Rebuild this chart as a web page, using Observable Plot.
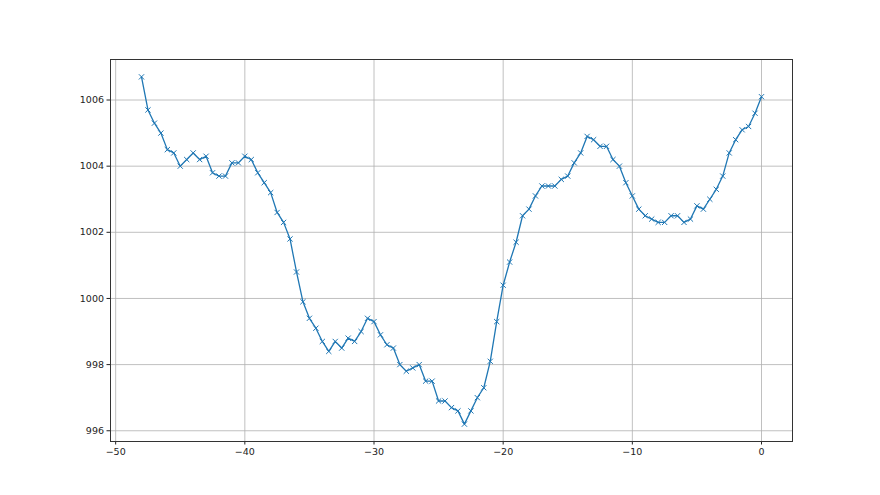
<!DOCTYPE html>
<html>
<head>
<meta charset="utf-8">
<script src="https://cdn.jsdelivr.net/npm/d3@7"></script>
<script src="https://cdn.jsdelivr.net/npm/@observablehq/plot@0.6"></script>
<style>
  html, body { margin: 0; padding: 0; background: #fff; }
  #chart { width: 880px; height: 495px; }
</style>
</head>
<body>
<div id="chart"></div>
<script>
const xStart = -48;
const xStep = 0.5;
const pressure = [
  1006.7, 1005.7, 1005.3, 1005.0, 1004.5, 1004.4, 1004.0, 1004.2, 1004.4, 1004.2,
  1004.3, 1003.8, 1003.7, 1003.7, 1004.1, 1004.1, 1004.3, 1004.2, 1003.8, 1003.5,
  1003.2, 1002.6, 1002.3, 1001.8, 1000.8, 999.9, 999.4, 999.1, 998.7, 998.4,
  998.7, 998.5, 998.8, 998.7, 999.0, 999.4, 999.3, 998.9, 998.6, 998.5,
  998.0, 997.8, 997.9, 998.0, 997.5, 997.5, 996.9, 996.9, 996.7, 996.6,
  996.2, 996.6, 997.0, 997.3, 998.1, 999.3, 1000.4, 1001.1, 1001.7, 1002.5,
  1002.7, 1003.1, 1003.4, 1003.4, 1003.4, 1003.6, 1003.7, 1004.1, 1004.4, 1004.9,
  1004.8, 1004.6, 1004.6, 1004.2, 1004.0, 1003.5, 1003.1, 1002.7, 1002.5, 1002.4,
  1002.3, 1002.3, 1002.5, 1002.5, 1002.3, 1002.4, 1002.8, 1002.7, 1003.0, 1003.3,
  1003.7, 1004.4, 1004.8, 1005.1, 1005.2, 1005.6, 1006.1
];
const xTicks = [-50, -40, -30, -20, -10, 0];
const yTicks = [996, 998, 1000, 1002, 1004, 1006];

const data = pressure.map((v, i) => ({x: xStart + i * xStep, y: v}));

const xs = data.map(d => d.x), ys = data.map(d => d.y);
const xmin = d3.min(xs), xmax = d3.max(xs), ymin = d3.min(ys), ymax = d3.max(ys);
const xm = (xmax - xmin) * 0.05, ym = (ymax - ymin) * 0.05;

const color = "#1f77b4";
const grid = "#b0b0b0";
const fmt = d => String(d).replace("-", "\u2212");

const chart = Plot.plot({
  width: 880,
  height: 495,
  marginLeft: 110,
  marginRight: 88,
  marginTop: 59,
  marginBottom: 54,
  style: {background: "#fff", fontFamily: "DejaVu Sans, sans-serif", fontSize: "9.5px", color: "#222"},
  x: {domain: [xmin - xm, xmax + xm]},
  y: {domain: [ymin - ym, ymax + ym]},
  marks: [
    Plot.ruleX(xTicks, {stroke: grid, strokeWidth: 0.8}),
    Plot.ruleY(yTicks, {stroke: grid, strokeWidth: 0.8}),
    Plot.line(data, {x: "x", y: "y", stroke: color, strokeWidth: 1.3}),
    Plot.dot(data, {x: "x", y: "y", symbol: "times", r: 2.5, stroke: color, strokeWidth: 1}),
    Plot.axisX({ticks: xTicks, tickSize: 3.5, tickPadding: 3, label: null, tickFormat: fmt}),
    Plot.axisY({ticks: yTicks, tickSize: 3.5, tickPadding: 3, label: null, tickFormat: fmt}),
    Plot.frame({stroke: "#333", strokeWidth: 1})
  ]
});
document.getElementById("chart").appendChild(chart);
</script>
</body>
</html>
